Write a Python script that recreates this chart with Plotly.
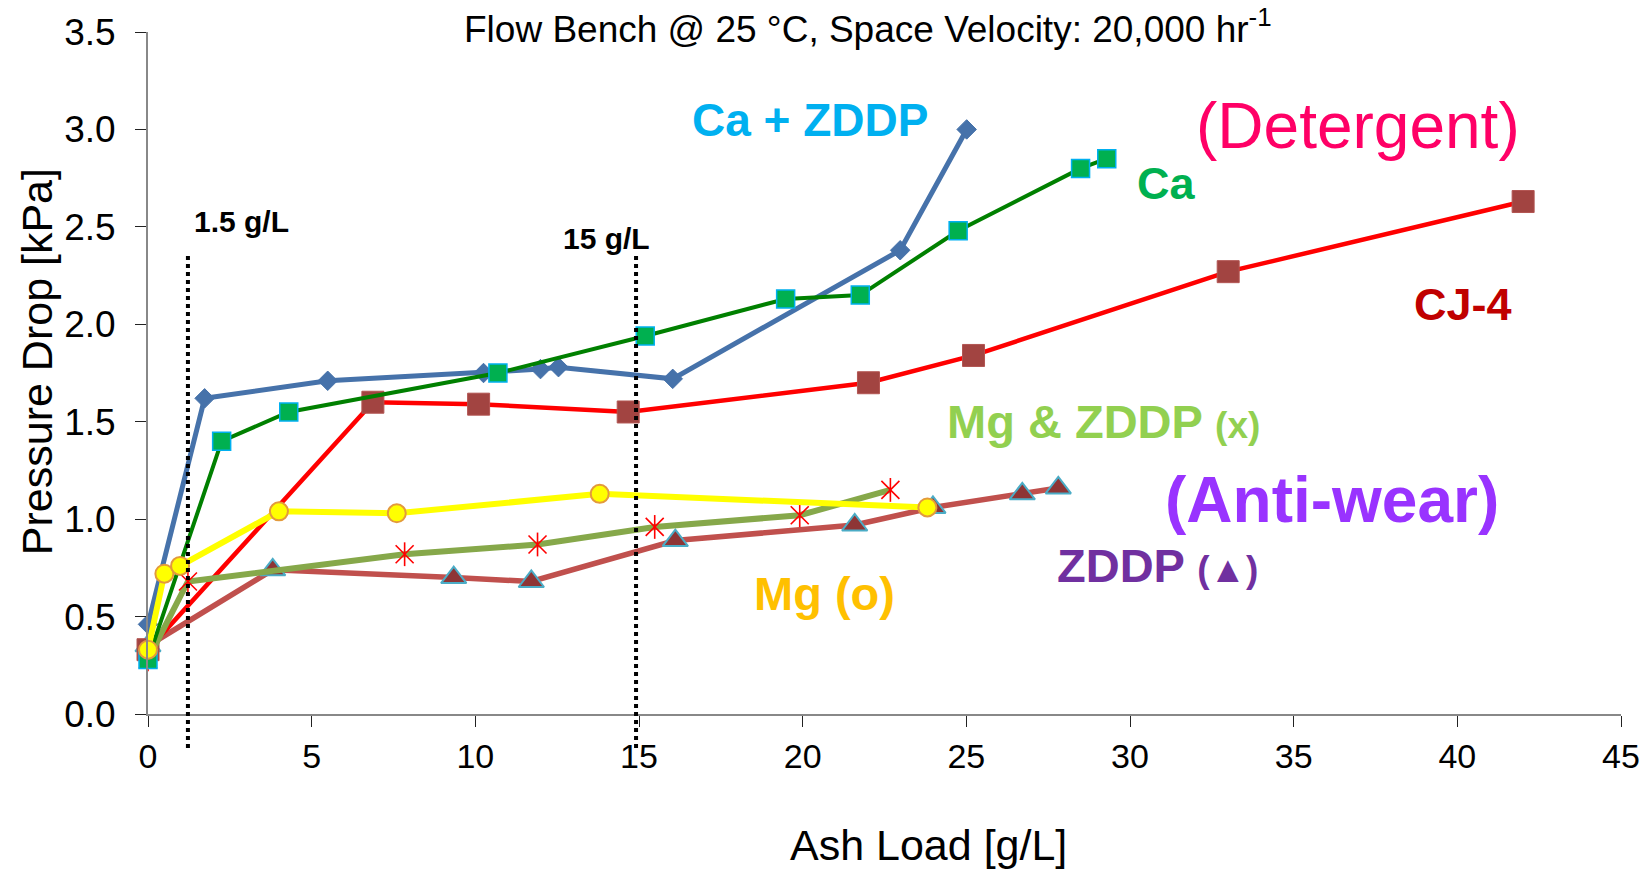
import plotly.graph_objects as go

# Ash load [g/L] and pressure drop [kPa] for each lubricant additive
ca_zddp_x = [0.0, 1.73, 5.49, 10.25, 11.99, 12.54, 16.03, 22.98, 25.01]
ca_zddp_y = [0.46, 1.62, 1.71, 1.75, 1.77, 1.78, 1.72, 2.38, 3.00]

ca_x = [0.0, 2.25, 4.30, 10.69, 15.19, 19.48, 21.76, 24.75, 28.49, 29.29]
ca_y = [0.28, 1.40, 1.55, 1.75, 1.94, 2.13, 2.15, 2.48, 2.80, 2.85]

cj4_x = [0.0, 6.87, 10.10, 14.67, 22.01, 25.22, 33.00, 42.01]
cj4_y = [0.33, 1.60, 1.59, 1.55, 1.70, 1.84, 2.27, 2.63]

mg_x = [0.0, 0.50, 0.98, 4.00, 7.60, 13.80, 23.81]
mg_y = [0.33, 0.72, 0.76, 1.04, 1.03, 1.13, 1.06]

mg_zddp_x = [0.0, 1.22, 7.84, 11.90, 15.48, 19.91, 22.68]
mg_zddp_y = [0.28, 0.68, 0.82, 0.87, 0.96, 1.02, 1.15]

zddp_x = [0.0, 3.81, 9.34, 11.71, 16.11, 21.59, 23.98, 26.71, 27.81]
zddp_y = [0.35, 0.74, 0.70, 0.68, 0.89, 0.97, 1.06, 1.13, 1.16]

# Reference ash loadings marked with dotted lines
ref_load_x = [1.22, 14.91]
ref_load_labels = ["1.5 g/L", "15 g/L"]

x_ticks = [0, 5, 10, 15, 20, 25, 30, 35, 40, 45]
y_ticks = [0.0, 0.5, 1.0, 1.5, 2.0, 2.5, 3.0, 3.5]

FONT = "Liberation Sans, Arial, sans-serif"

fig = go.Figure()


def add_series(x, y, line_color, line_width, symbol, size, fill, edge, edge_w):
    fig.add_trace(go.Scatter(
        x=x, y=y, mode="lines+markers", showlegend=False, cliponaxis=False,
        line=dict(color=line_color, width=line_width),
        marker=dict(symbol=symbol, size=size, color=fill,
                    line=dict(color=edge, width=edge_w)),
    ))


# ZDDP (triangles)
add_series(zddp_x, zddp_y, "#C0504D", 5.5, "triangle-up", 22, "#8E3535", "#4BACC6", 2)
# CJ-4 (squares)
add_series(cj4_x, cj4_y, "#FF0000", 4.5, "square", 22, "#A24441", "#B25552", 1)
# Mg & ZDDP (asterisks)
fig.add_trace(go.Scatter(
    x=mg_zddp_x, y=mg_zddp_y, mode="lines+markers", showlegend=False, cliponaxis=False,
    line=dict(color="#86A84A", width=6),
    marker=dict(symbol="x-thin-open", size=18, color="#FF0000",
                line=dict(color="#FF0000", width=1.6)),
))
fig.add_trace(go.Scatter(
    x=mg_zddp_x, y=mg_zddp_y, mode="markers", showlegend=False, cliponaxis=False,
    marker=dict(symbol="line-ns-open", size=17, color="#FF0000",
                line=dict(color="#FF0000", width=1.6)),
))
# Ca + ZDDP (diamonds)
add_series(ca_zddp_x, ca_zddp_y, "#4672AA", 5, "diamond", 15, "#4672AA", "#4672AA", 1)
# Ca (squares)
add_series(ca_x, ca_y, "#008000", 4, "square", 18, "#00B050", "#00B0F0", 1.5)
# Mg (circles)
add_series(mg_x, mg_y, "#FFFF00", 6, "circle", 18, "#FFFF00", "#E39A3C", 2)

# Dotted reference-load lines
for xv in ref_load_x:
    fig.add_shape(type="line", xref="x", yref="paper", x0=xv, x1=xv,
                  y0=-0.05, y1=0.672,
                  line=dict(color="black", width=4, dash="dot"), layer="above")

annotations = [
    dict(x=ref_load_x[0] + 1.65, y=2.53, text="<b>" + ref_load_labels[0] + "</b>", size=30, color="black"),
    dict(x=ref_load_x[1] - 0.9, y=2.44, text="<b>" + ref_load_labels[1] + "</b>", size=30, color="black"),
    dict(x=20.21, y=3.05, text="<b>Ca + ZDDP</b>", size=46, color="#00B0F0"),
    dict(x=36.96, y=3.02, text="(Detergent)", size=64, color="#FF0066"),
    dict(x=31.11, y=2.72, text="<b>Ca</b>", size=45, color="#00B050"),
    dict(x=40.16, y=2.10, text="<b>CJ-4</b>", size=45, color="#C00000"),
    dict(x=29.19, y=1.50,
         text="<b>Mg &amp; ZDDP <span style='font-size:37px'>(x)</span></b>",
         size=47, color="#92D050"),
    dict(x=36.18, y=1.10, text="<b>(Anti-wear)</b>", size=64, color="#9933FF"),
    dict(x=30.84, y=0.76,
         text="<b>ZDDP <span style='font-size:37px'>(▲)</span></b>",
         size=47, color="#7030A0"),
    dict(x=20.67, y=0.62, text="<b>Mg (o)</b>", size=47, color="#FFC000"),
]
for a in annotations:
    fig.add_annotation(x=a["x"], y=a["y"], xref="x", yref="y", text=a["text"],
                       showarrow=False, xanchor="center", yanchor="middle",
                       font=dict(family=FONT, size=a["size"], color=a["color"]))

# Chart title and axis titles
fig.add_annotation(
    x=0.4885, y=1.008, xref="paper", yref="paper", showarrow=False,
    xanchor="center", yanchor="middle",
    text="Flow Bench @ 25 °C, Space Velocity: 20,000 hr<sup>-1</sup>",
    font=dict(family=FONT, size=37, color="black"),
)
fig.add_annotation(
    x=0.53, y=-0.192, xref="paper", yref="paper", showarrow=False,
    xanchor="center", yanchor="middle", text="Ash Load [g/L]",
    font=dict(family=FONT, size=43, color="black"),
)
fig.add_annotation(
    x=-0.0753, y=0.516, xref="paper", yref="paper", showarrow=False,
    xanchor="center", yanchor="middle", textangle=-90, text="Pressure Drop [kPa]",
    font=dict(family=FONT, size=43, color="black"),
)

axis_common = dict(showgrid=False, zeroline=False, ticks="outside", ticklen=11,
                   tickwidth=1, tickcolor="#222", showline=True,
                   linecolor="#888888", linewidth=2)

fig.update_layout(
    width=1652, height=871,
    margin=dict(l=148, r=30, t=28, b=157),
    paper_bgcolor="white", plot_bgcolor="white",
    showlegend=False,
    xaxis=dict(range=[0, 45], tickvals=x_ticks, ticktext=[str(v) for v in x_ticks],
               tickfont=dict(family=FONT, size=34, color="black"),
               **axis_common),
    yaxis=dict(range=[0, 3.5], tickvals=y_ticks, ticktext=[f"{v:.1f}" for v in y_ticks],
               tickfont=dict(family=FONT, size=37, color="black"),
               ticklabelstandoff=12,
               **axis_common),
    xaxis2=dict(overlaying="x", anchor="y", side="bottom", range=[0, 45],
                tickvals=x_ticks, ticks="inside", ticklen=11, tickwidth=1,
                tickcolor="#222", showticklabels=False, showline=False,
                showgrid=False, zeroline=False),
    yaxis2=dict(overlaying="y", anchor="x", side="left", range=[0, 3.5],
                tickvals=y_ticks, ticks="inside", ticklen=11, tickwidth=1,
                tickcolor="#222", showticklabels=False, showline=False,
                showgrid=False, zeroline=False),
)

fig.write_html("out.html")
